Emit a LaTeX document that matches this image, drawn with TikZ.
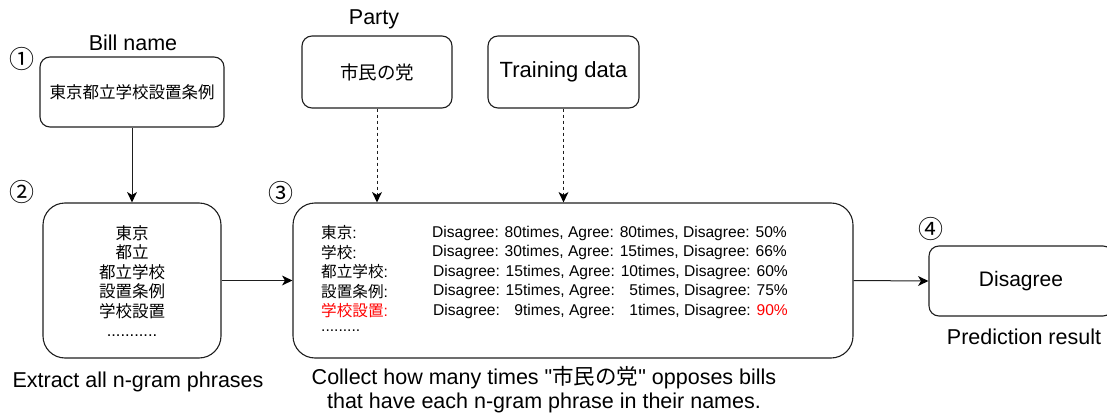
\documentclass[tikz,border=0pt]{standalone}
\usepackage{fontspec}
\setmainfont{Liberation Sans}
\newfontfamily\cjk{Noto Sans CJK JP}
\newcommand\myfs[1]{\fontsize{#1}{1.2\dimexpr #1pt\relax}\selectfont}
\definecolor{hlred}{RGB}{255,0,0}
\definecolor{linec}{RGB}{30,30,30}
\tikzset{
  box/.style={draw=linec, line width=1.1pt, rounded corners=10pt, inner sep=0pt},
  bigbox/.style={box, rounded corners=22pt},
  arr/.style={draw=linec, line width=1pt, shorten >=6pt},
  darr/.style={arr, dash pattern=on 3pt off 3pt},
  tipfill/.style={fill=black},
  captext/.style={font=\myfs{21.5}, inner sep=0pt},
  num/.style={font=\cjk\myfs{25}, inner sep=0pt},
  row/.style={anchor=west, inner sep=0pt, font=\myfs{15.6}},
  lab/.style={anchor=west, inner sep=0pt, font=\myfs{15.6}}
}
\newcommand\tipdown[1]{\fill[tipfill] #1 -- ++(-5,10.5) -- ++(5,-3) -- ++(5,3) -- cycle;}
\newcommand\tipright[1]{\fill[tipfill] #1 -- ++(-10.5,5) -- ++(3,-5) -- ++(-3,-5) -- cycle;}
\begin{document}
\begin{tikzpicture}[x=1pt,y=1pt]
\useasboundingbox (0,0) rectangle (1107,-417);

% boxes
\node[box, minimum width=184pt, minimum height=70pt, font=\cjk\myfs{16.5}] (bill) at (132,-92) {東京都立学校設置条例};
\node[bigbox, minimum width=178pt, minimum height=155pt] (ngram) at (132,-280.5) {};
\node[bigbox, minimum width=560pt, minimum height=155pt] (collect) at (573,-280.5) {};
\node[box, minimum width=150pt, minimum height=72pt, font=\cjk\myfs{18.5}] (party) at (377,-72) {市民の党};
\node[box, minimum width=151pt, minimum height=72pt, font=\myfs{22}] (train) at (563.5,-72) {Training data};
\node[box, minimum width=184pt, minimum height=70pt, font=\myfs{21}] (pred) at (1021,-281) {Disagree};

% captions
\node[captext] (capbill) at (133,-43) {Bill name};
\node[captext] (capparty) at (374,-19) {Party};
\node[captext] (capngram) at (138,-382) {Extract all n-gram phrases};
\node[captext, align=center, font=\fontsize{21.5}{24}\selectfont] (capcollect) at (544,-390) {Collect how many times \textquotedbl{\cjk 市民の党}\textquotedbl{} opposes bills\\ that have each n-gram phrase in their names.};
\node[captext] (cappred) at (1024,-337) {Prediction result};

% step numbers
\node[num] (n1) at (22,-59) {①};
\node[num] (n2) at (22,-192) {②};
\node[num] (n3) at (281,-193) {③};
\node[num] (n4) at (931,-229) {④};

% n-gram list
\node[inner sep=0pt, align=center, font=\cjk\fontsize{16.5}{19.4}\selectfont] (list) at (132,-281) {東京\\都立\\都立学校\\設置条例\\学校設置\\{\rmfamily\myfs{16.5}...........}};

% table rows
\node[lab] (l1) at (321,-233) {{\cjk 東京}:};
\node[lab] (l2) at (321,-252.5) {{\cjk 学校}:};
\node[lab] (l3) at (321,-272) {{\cjk 都立学校}:};
\node[lab] (l4) at (321,-291.5) {{\cjk 設置条例}:};
\node[lab, text=hlred] (l5) at (321,-311) {{\cjk 学校設置}:};
\node[lab] (l6) at (321,-331) {.........};

\node[row] (r1) at (432,-233) {Disagree: 80times, Agree: 80times, Disagree: 50\%};
\node[row] (r2) at (432,-252.5) {Disagree: 30times, Agree: 15times, Disagree: 66\%};
\node[row] (r3) at (433,-272) {Disagree: 15times, Agree: 10times, Disagree: 60\%};
\node[row] (r4) at (433,-291.5) {Disagree: 15times, Agree: \phantom{0}5times, Disagree: 75\%};
\node[row] (r5) at (433,-311) {Disagree: \phantom{0}9times, Agree: \phantom{0}1times, Disagree: {\color{hlred}90\%}};

% connectors
\draw[arr] (bill.south) -- (ngram.north);
\tipdown{(ngram.north)}
\draw[arr] (ngram.east) -- (collect.west);
\tipright{(collect.west)}
\draw[arr] (collect.east) -- (pred.west);
\tipright{(pred.west)}
\draw[darr] (party.south) -- (party.south |- collect.north);
\tipdown{(party.south |- collect.north)}
\draw[darr] (train.south) -- (train.south |- collect.north);
\tipdown{(train.south |- collect.north)}
\end{tikzpicture}
\end{document}
